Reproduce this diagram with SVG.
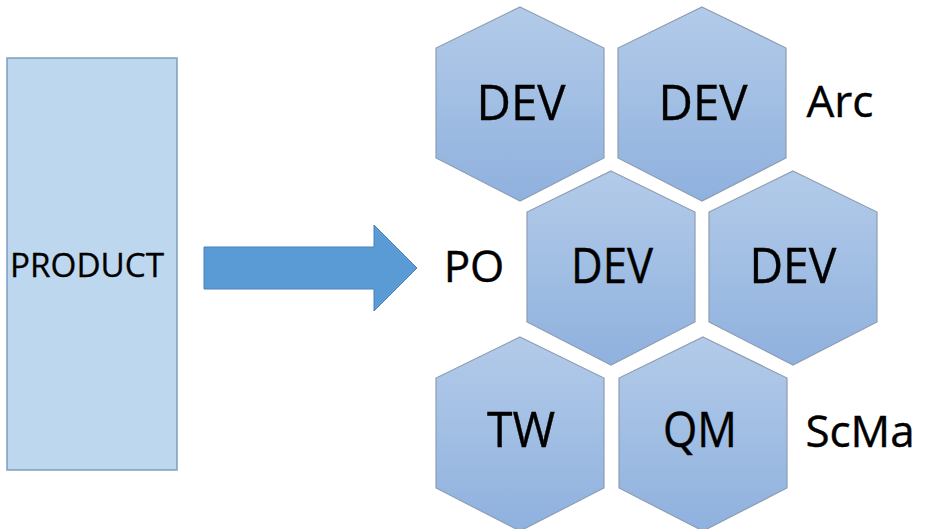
<svg xmlns="http://www.w3.org/2000/svg" width="926" height="529" viewBox="0 0 926 529">
<defs>
<linearGradient id="hexfill" x1="0" y1="0" x2="0" y2="1">
<stop offset="0" stop-color="#b3cbe9"/>
<stop offset="1" stop-color="#8fb1de"/>
</linearGradient>
<polygon id="hex" points="0,-97 84,-56 84,54 0,97 -84,54 -84,-56"/>
</defs>
<style>
.hex{fill:url(#hexfill);stroke:#8d9db3;stroke-width:1.2}
.t{font-family:"Open Sans","Noto Sans",sans-serif;fill:#000;text-anchor:middle;stroke:#000;stroke-width:0.4}
.big{font-size:50px}
.lbl{font-size:44px}
</style>
<rect width="926" height="529" fill="#fff"/>
<g id="product">
<rect x="7" y="58" width="170" height="412" fill="#bdd7ee" stroke="#7f9cc0" stroke-width="1.5"/>
<text class="t" x="87" y="277" font-size="33" textLength="154" lengthAdjust="spacingAndGlyphs" style="stroke-width:0.3">PRODUCT</text>
</g>
<g id="connectors">
<polygon points="204,247 374,247 374,225 417,268 374,311 374,289 204,289" fill="#5b9bd5" stroke="#4a80b8" stroke-width="1"/>
</g>
<g id="dev1"><use href="#hex" class="hex" x="520" y="104"/><text class="t big" x="521" y="120" textLength="89" lengthAdjust="spacingAndGlyphs">DEV</text></g>
<g id="dev2"><use href="#hex" class="hex" x="702" y="104"/><text class="t big" x="703" y="120" textLength="89" lengthAdjust="spacingAndGlyphs">DEV</text></g>
<g id="dev3"><use href="#hex" class="hex" x="611" y="268"/><text class="t big" x="612" y="283" textLength="82" lengthAdjust="spacingAndGlyphs">DEV</text></g>
<g id="dev4"><use href="#hex" class="hex" x="793" y="268"/><text class="t big" x="793" y="283" textLength="87" lengthAdjust="spacingAndGlyphs">DEV</text></g>
<g id="tw"><use href="#hex" class="hex" x="520" y="434"/><text class="t big" x="521" y="447" textLength="68" lengthAdjust="spacingAndGlyphs">TW</text></g>
<g id="qm"><use href="#hex" class="hex" x="703" y="434"/><text class="t big" x="700" y="447" textLength="74" lengthAdjust="spacingAndGlyphs">QM</text></g>
<g id="labels">
<text class="t lbl" x="840" y="117">Arc</text>
<text class="t lbl" x="474" y="282">PO</text>
<text class="t lbl" x="860" y="447">ScMa</text>
</g>
</svg>
